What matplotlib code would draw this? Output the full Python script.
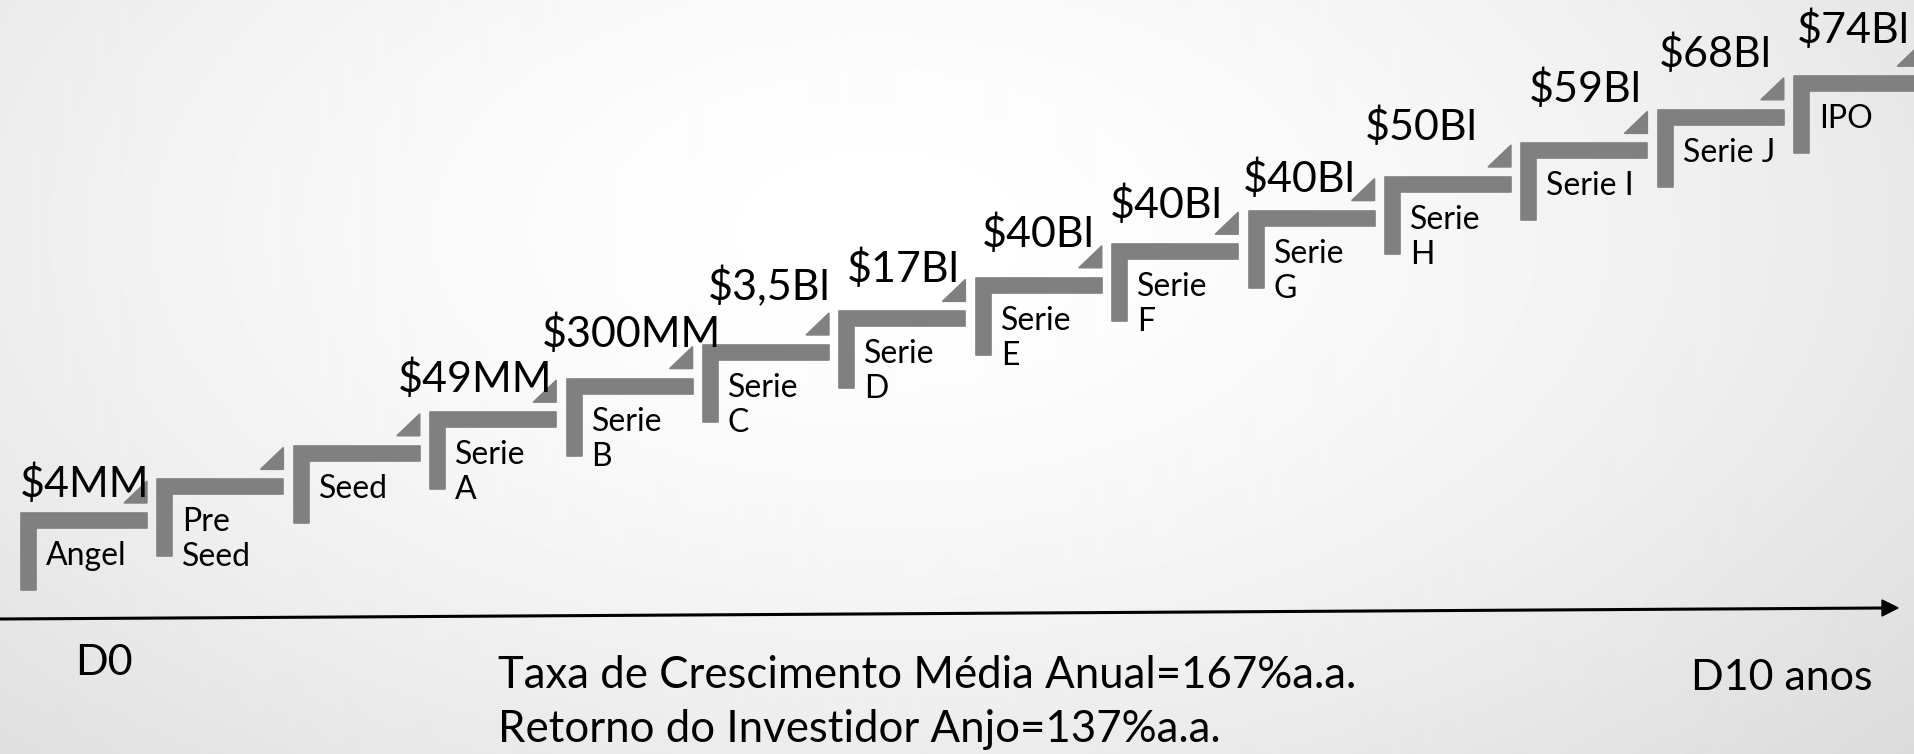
import numpy as np
import matplotlib.pyplot as plt
from matplotlib.patches import Polygon

plt.rcParams['font.family'] = ['Lato', 'DejaVu Sans']

# Data
stages = ["Angel", "Pre\nSeed", "Seed", "Serie\nA", "Serie\nB", "Serie\nC", "Serie\nD",
          "Serie\nE", "Serie\nF", "Serie\nG", "Serie\nH", "Serie I", "Serie J", "IPO"]
valuations = ["$4MM", "", "", "$49MM", "$300MM", "$3,5Bl", "$17Bl",
              "$40Bl", "$40Bl", "$40Bl", "$50Bl", "$59Bl", "$68Bl", "$74Bl"]
start_label = "D0"
end_label = "D10 anos"
notes = ["Taxa de Crescimento Média Anual=167%a.a.",
         "Retorno do Investidor Anjo=137%a.a."]

# layout (pixels of the 1915x754 canvas, y downwards)
W, H = 1915, 754
x_start, y_start = 21, 513
dx_step, dy_step = 136.4, 33.6
bar_len, bar_w, leg_len = 126, 15, 77
# offsets of valuation text from the step corner
val_dx = [-1, 0, 0, -32, -25, 5, 7, 6, -2, -6, -20, 7, 1, 3]
val_dy = [-16, 0, 0, -20, -32, -45, -29, -31, -26, -19, -37, -41, -43, -33]

grey = "#808080"

fig = plt.figure(figsize=(W / 100, H / 100), dpi=100)
ax = fig.add_axes([0, 0, 1, 1])
ax.set_xlim(0, W)
ax.set_ylim(H, 0)
ax.axis("off")

# radial background
yy, xx = np.mgrid[0:H:2, 0:W:2]
r = np.sqrt(((xx - 880) / 1250.0) ** 2 + ((yy - 230) / 700.0) ** 2)
shade = 1.0 - 0.12 * np.clip(r, 0, 1.2) ** 1.6
ax.imshow(shade, cmap="gray", vmin=0, vmax=1, extent=[0, W, H, 0],
          aspect="auto", zorder=0, interpolation="bilinear")

for i, name in enumerate(stages):
    x0 = x_start + dx_step * i
    yt = y_start - dy_step * i
    # inverted L step
    pts = [(x0, yt), (x0 + bar_len, yt), (x0 + bar_len, yt + bar_w),
           (x0 + bar_w, yt + bar_w), (x0 + bar_w, yt + leg_len), (x0, yt + leg_len)]
    ax.add_patch(Polygon(pts, closed=True, facecolor=grey, edgecolor=grey,
                         linewidth=1.2, joinstyle="round", zorder=2))
    # small triangle
    tri = [(x0 + bar_len, yt - 10), (x0 + bar_len - 23, yt - 10), (x0 + bar_len, yt - 32)]
    ax.add_patch(Polygon(tri, closed=True, facecolor=grey, edgecolor=grey,
                         linewidth=1.0, zorder=2))
    # stage name
    for k, line in enumerate(name.split("\n")):
        ax.text(x0 + 25, yt + 52 + 35 * k, line, fontsize=23, ha="left",
                va="baseline", color="black", zorder=3)
    # valuation
    if valuations[i]:
        ax.text(x0 + val_dx[i], yt + val_dy[i], valuations[i], fontsize=31,
                ha="left", va="baseline", color="black", zorder=3)

# time axis
ax.plot([0, 1884], [619, 608], color="black", linewidth=2.2, zorder=2,
        solid_capstyle="butt")
ax.add_patch(Polygon([(1882, 600), (1898, 607.9), (1882, 616)], closed=True,
                     facecolor="black", edgecolor="black", zorder=2))

ax.text(75, 675, start_label, fontsize=31, ha="left", va="baseline", color="black")
ax.text(1873, 690, end_label, fontsize=31, ha="right", va="baseline", color="black")
ax.text(498, 688, notes[0], fontsize=31.5, ha="left", va="baseline", color="black")
ax.text(498, 742, notes[1], fontsize=31.5, ha="left", va="baseline", color="black")

fig.savefig("out.png", dpi=100)
